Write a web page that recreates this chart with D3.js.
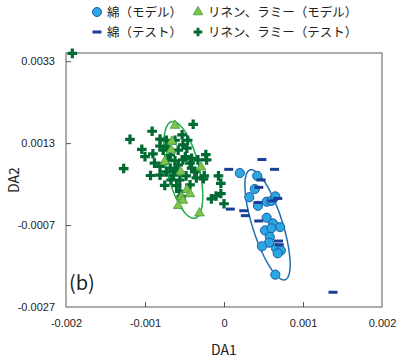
<!DOCTYPE html>
<html>
<head>
<meta charset="utf-8">
<script src="https://cdn.jsdelivr.net/npm/d3@7"></script>
<style>
  body { margin: 0; background: #fff; }
  svg { font-family: 'Noto Sans CJK JP', 'Noto Sans', sans-serif; }
  .axis path { display: none; }
  .axis line { stroke: #555; }
  .axis text { font-size: 11px; fill: #222; }
</style>
</head>
<body>
<svg width="400" height="362"></svg>
<script>
// 綿（モデル）
const cottonModel = [
  [0.00020, 0.00057], [0.00042, 0.00050], [0.00039, 0.00018], [0.00032, -0.00002],
  [0.00043, -0.00023], [0.00054, -0.00013], [0.00060, -0.00011], [0.00065, 0.00000],
  [0.00054, -0.00052], [0.00062, -0.00066], [0.00071, -0.00075], [0.00052, -0.00083],
  [0.00060, -0.00078], [0.00058, -0.00099], [0.00057, -0.00113], [0.00048, -0.00122],
  [0.00066, -0.00127], [0.00072, -0.00132], [0.00068, -0.00139], [0.00065, -0.00191]
]
// 綿（テスト）
const cottonTest = [
  [0.00048, 0.00090], [0.00006, 0.00066], [0.00064, 0.00066], [0.00047, 0.00040],
  [0.00044, 0.00022], [0.00068, -0.00005], [0.00061, -0.00011], [0.00043, -0.00015],
  [0.00008, -0.00031], [0.00025, -0.00035], [0.00027, -0.00047], [0.00044, -0.00060],
  [0.00069, -0.00109], [0.00070, -0.00118], [0.00138, -0.00234]
]
// リネン、ラミー（モデル）
const linenModel = [
  [-0.00062, 0.00173], [-0.00066, 0.00134], [-0.00067, 0.00113], [-0.00075, 0.00085],
  [-0.00055, 0.00060], [-0.00029, 0.00071], [-0.00047, 0.00016], [-0.00043, 0.00006],
  [-0.00054, -0.00001], [-0.00052, -0.00010], [-0.00058, -0.00023], [-0.00031, -0.00041]
]
// リネン、ラミー（テスト）
const linenTest = [
  [-0.00192, 0.00349], [-0.00039, 0.00176], [-0.00091, 0.00159], [-0.00119, 0.00139],
  [-0.00081, 0.00140], [-0.00073, 0.00137], [-0.00053, 0.00150], [-0.00072, 0.00121],
  [-0.00104, 0.00115], [-0.00100, 0.00097], [-0.00090, 0.00104], [-0.00088, 0.00081],
  [-0.00127, 0.00068], [-0.00093, 0.00051], [-0.00073, 0.00060], [-0.00064, 0.00052],
  [-0.00075, 0.00027], [-0.00060, 0.00026], [-0.00062, 0.00087], [-0.00047, 0.00118],
  [-0.00049, 0.00097], [-0.00041, 0.00093], [-0.00023, 0.00102], [-0.00022, 0.00089],
  [-0.00026, 0.00043], [-0.00025, 0.00050], [-0.00007, 0.00050], [-0.00004, 0.00032],
  [-0.00004, 0.00007], [-0.00010, 0.00001], [-0.00016, -0.00006], [0.00000, -0.00018],
  [-0.00056, 0.00040], [-0.00068, 0.00069], [-0.00058, 0.00077], [-0.00043, 0.00081],
  [-0.00081, 0.00073], [-0.00081, 0.00123], [-0.00068, 0.00101], [-0.00041, 0.00069],
  [-0.00037, 0.00060], [-0.00056, 0.00012], [-0.00052, 0.00126], [-0.00058, 0.00113],
  [-0.00062, 0.00137], [-0.00046, 0.00137], [-0.00071, 0.00089], [-0.00052, 0.00089],
  [-0.00061, 0.00065], [-0.00048, 0.00050], [-0.00043, 0.00028], [-0.00035, 0.00045],
  [-0.00067, 0.00040], [-0.00081, 0.00052], [-0.00054, 0.00000], [-0.00077, 0.00113],
  [-0.00033, 0.00089]
]
// ellipses: center, semi-axis vectors (data units)
const ellipseCotton = { c: [0.000551, -0.000695], u: [0.000222, -0.00134], v: [0.000181, 0.000111] }
const ellipseLinen = { c: [-0.000515, 0.000646], u: [0.000148, -0.001178], v: [0.000197, 0.000092] }

const xTicks = [-0.002, -0.001, 0, 0.001, 0.002]
const yTicks = [0.0033, 0.0013, -0.0007, -0.0027]
const legendLabels = ['綿（モデル）', 'リネン、ラミー（モデル）', '綿（テスト）', 'リネン、ラミー（テスト）']

const svg = d3.select('svg')
const mLeft = 66, mRight = 382, mTop = 53, mBottom = 307

const x = d3.scaleLinear().domain([-0.002, 0.002]).range([mLeft, mRight])
const y = d3.scaleLinear().domain([-0.0027, 0.0035]).range([mBottom, mTop])

const C = {
  circleFill: '#2aa6e0', circleStroke: '#1a5ea8',
  dash: '#1b3f99',
  triFill: '#80c34a', triStroke: '#3d9a3e',
  cross: '#006a32',
  ellBlue: '#1f6db5', ellGreen: '#1faa4b'
}

// hyphen instead of unicode minus, like the original
const fmt = p => d => d === 0 ? '0' : d3.format(p)(d).replace('\u2212', '-')

// frame
svg.append('rect')
  .attr('x', mLeft).attr('y', mTop)
  .attr('width', mRight - mLeft).attr('height', mBottom - mTop)
  .attr('fill', 'none').attr('stroke', '#777').attr('stroke-width', 1.2)

// axes (ticks point inward)
svg.append('g').attr('class', 'axis')
  .attr('transform', `translate(0,${mBottom})`)
  .call(d3.axisBottom(x).tickValues(xTicks).tickSizeInner(-5).tickSizeOuter(0).tickPadding(12)
    .tickFormat(fmt('.3f')))
svg.append('g').attr('class', 'axis')
  .attr('transform', `translate(${mLeft},0)`)
  .call(d3.axisLeft(y).tickValues(yTicks).tickSizeInner(-5).tickSizeOuter(0).tickPadding(11)
    .tickFormat(fmt('.4f')))
svg.selectAll('.axis .tick line').filter(function () {
  const t = d3.select(this.parentNode).datum()
  return t === -0.002 || t === 0.002 || t === -0.0027
}).remove()

svg.append('text').attr('x', 224).attr('y', 355).attr('text-anchor', 'middle')
  .attr('font-size', 14).attr('fill', '#222').text('DA1')
svg.append('text').attr('transform', 'translate(19,180) rotate(-90)').attr('text-anchor', 'middle')
  .attr('font-size', 14).attr('fill', '#222').text('DA2')
svg.append('text').attr('x', 69).attr('y', 290)
  .attr('font-size', 20).attr('fill', '#222').text('(b)')

// ellipses
const ellLine = d3.line().x(d => x(d[0])).y(d => y(d[1]))
const ellPoints = e => d3.range(0, 361, 4).map(a => {
  const t = a * Math.PI / 180
  return [e.c[0] + e.u[0] * Math.cos(t) + e.v[0] * Math.sin(t),
          e.c[1] + e.u[1] * Math.cos(t) + e.v[1] * Math.sin(t)]
})
svg.append('path').attr('d', ellLine(ellPoints(ellipseLinen)))
  .attr('fill', 'none').attr('stroke', C.ellGreen).attr('stroke-width', 1.5)
svg.append('path').attr('d', ellLine(ellPoints(ellipseCotton)))
  .attr('fill', 'none').attr('stroke', C.ellBlue).attr('stroke-width', 1.5)

const crossPath = d3.symbol().type(d3.symbolCross).size(52)()
const triPath = d3.symbol().type(d3.symbolTriangle).size(40)()

const marks = svg.append('g')
marks.selectAll('path.cross').data(linenTest).join('path')
  .attr('class', 'cross')
  .attr('d', crossPath)
  .attr('transform', d => `translate(${x(d[0])},${y(d[1])})`)
  .attr('fill', C.cross)
marks.selectAll('path.tri').data(linenModel).join('path')
  .attr('class', 'tri')
  .attr('d', triPath)
  .attr('transform', d => `translate(${x(d[0])},${y(d[1])})`)
  .attr('fill', C.triFill).attr('stroke', C.triStroke).attr('stroke-width', 0.8)
marks.selectAll('circle').data(cottonModel).join('circle')
  .attr('cx', d => x(d[0])).attr('cy', d => y(d[1])).attr('r', 4.6)
  .attr('fill', C.circleFill).attr('stroke', C.circleStroke).attr('stroke-width', 1)
marks.selectAll('rect.dash').data(cottonTest).join('rect')
  .attr('class', 'dash')
  .attr('x', d => x(d[0]) - 4.5).attr('y', d => y(d[1]) - 1.5)
  .attr('width', 9).attr('height', 3)
  .attr('fill', C.dash)

// legend
const lg = svg.append('g')
const legPos = [[97, 12], [198, 12], [97, 32], [198, 32]]
lg.append('circle').attr('cx', legPos[0][0]).attr('cy', legPos[0][1]).attr('r', 4.5)
  .attr('fill', C.circleFill).attr('stroke', C.circleStroke)
lg.append('path').attr('d', triPath).attr('transform', `translate(${legPos[1][0]},${legPos[1][1]})`)
  .attr('fill', C.triFill).attr('stroke', C.triStroke).attr('stroke-width', 0.8)
lg.append('rect').attr('x', legPos[2][0] - 4.5).attr('y', legPos[2][1] - 1.5)
  .attr('width', 9).attr('height', 3).attr('fill', C.dash)
lg.append('path').attr('d', d3.symbol().type(d3.symbolCross).size(42)())
  .attr('transform', `translate(${legPos[3][0]},${legPos[3][1]})`)
  .attr('fill', C.cross)
lg.selectAll('text').data(legendLabels).join('text')
  .attr('x', (d, i) => legPos[i][0] + 10).attr('y', (d, i) => legPos[i][1])
  .attr('dy', '0.36em')
  .attr('font-size', 12.5).attr('fill', '#222')
  .text(d => d)
</script>
</body>
</html>
